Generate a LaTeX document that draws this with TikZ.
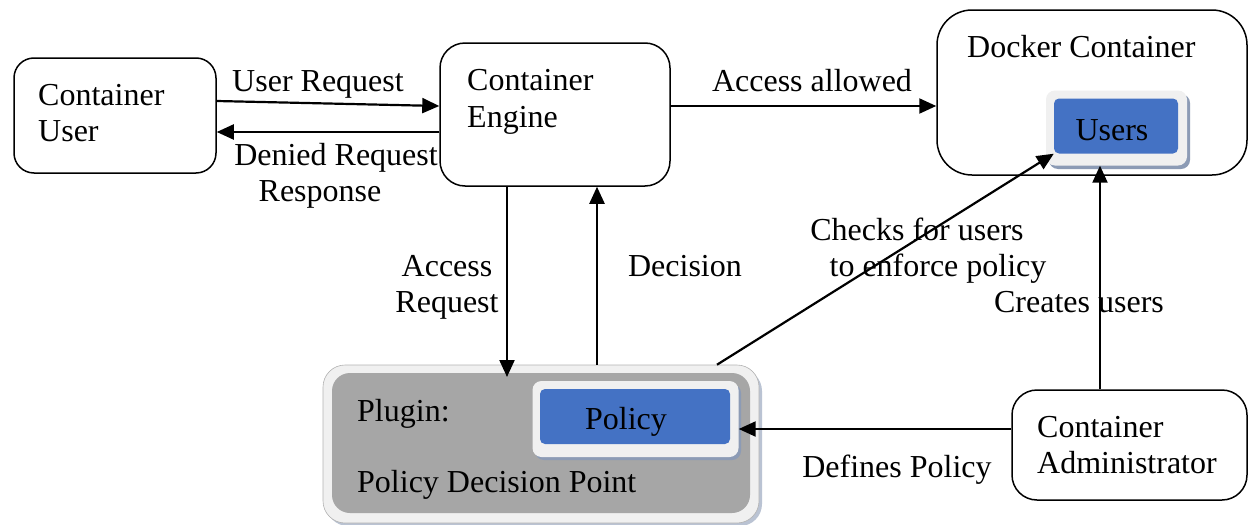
\documentclass[tikz,border=0pt]{standalone}
\usepackage{fontspec}
\setmainfont{Liberation Serif}
\usetikzlibrary{arrows.meta}
\definecolor{boxblue}{HTML}{4472C4}
\definecolor{framegray}{HTML}{F0F0F0}
\definecolor{shadowblue}{HTML}{8C9BB5}
\definecolor{plugingray}{HTML}{A6A6A6}
\begin{document}
\begin{tikzpicture}[x=1pt,y=-1pt,
  lbl/.style={font=\fontsize{32}{37}\selectfont, inner sep=0pt},
  whitebox/.style={draw=black, line width=1.5pt, fill=white, rectangle, inner sep=0pt},
  arr/.style={line width=2.2pt, -{Triangle[length=17pt,width=15pt]}},
  ]
\useasboundingbox (0,0) rectangle (1251,525);

% main boxes
\node[whitebox, rounded corners=20pt, minimum width=202pt, minimum height=115pt] (user) at (115,115.5) {};
\node[whitebox, rounded corners=25pt, minimum width=230pt, minimum height=143pt] (engine) at (555,114.5) {};
\node[whitebox, rounded corners=35pt, minimum width=310pt, minimum height=165pt] (docker) at (1092,92.5) {};
\node[whitebox, rounded corners=25pt, minimum width=235pt, minimum height=110pt] (admin) at (1129.5,445) {};

% plugin box
\fill[shadowblue!60, rounded corners=22pt] (326,369) rectangle (762,526);
\node[draw=black!30, line width=0.6pt, fill=framegray, rounded corners=22pt, minimum width=436pt, minimum height=158pt, inner sep=0pt] (pluginframe) at (541,444) {};
\node[fill=plugingray, rounded corners=18pt, minimum width=418pt, minimum height=140pt, inner sep=0pt] (plugin) at (541,443) {};

% policy box
\fill[shadowblue, rounded corners=9pt] (535,384) rectangle (741,460);
\node[fill=framegray, rounded corners=9pt, minimum width=206pt, minimum height=76pt, inner sep=0pt] (policyframe) at (635.5,419) {};
\node[fill=boxblue, rounded corners=5pt, minimum width=190pt, minimum height=55pt, inner sep=0pt] (policy) at (635,416.5) {};

% users box
\fill[shadowblue, rounded corners=9pt] (1049,94) rectangle (1190,169);
\node[fill=framegray, rounded corners=9pt, minimum width=141pt, minimum height=75pt, inner sep=0pt] (usersframe) at (1116.5,128) {};
\node[fill=boxblue, rounded corners=5pt, minimum width=124pt, minimum height=55pt, inner sep=0pt] (users) at (1116,126) {};

% box texts
\node[lbl, anchor=base west] (t1) at (38,105) {Container};
\node[lbl, anchor=base west] (t2) at (38,141) {User};
\node[lbl, anchor=base west] (t3) at (467,90) {Container};
\node[lbl, anchor=base west] (t4) at (467,127) {Engine};
\node[lbl, anchor=base west] (t5) at (967,57) {Docker Container};
\node[lbl, anchor=base west] (t6) at (1037,437) {Container};
\node[lbl, anchor=base west] (t7) at (1037,473) {Administrator};
\node[lbl, anchor=base west] (t8) at (357,421) {Plugin:};
\node[lbl, anchor=base west] (t9) at (357,492) {Policy Decision Point};
\node[lbl, anchor=base] (t10) at (626,429) {Policy};
\node[lbl, anchor=base] (t11) at (1112,140) {Users};

% connectors
\draw[arr] (user.east |- 0,101) -- (engine.west |- 0,106);
\draw[arr] (engine.west |- 0,132) -- (user.east |- 0,132);
\draw[arr] (engine.east |- 0,106) -- (docker.west |- 0,106);
\draw[arr] (engine.south -| 507,0) -- (507,377) coordinate (artip);
\draw[arr] (pluginframe.north -| 597,0) -- (engine.south -| 597,0);
\draw[arr] (pluginframe.north -| 717,0) -- (users.south west);
\draw[arr] (admin.north -| 1100,0) -- (usersframe.south -| 1100,0);
\draw[arr] (admin.west |- 0,429) -- (policyframe.east |- 0,429);

% connector labels
\node[lbl, anchor=base] (l1) at (318,91) {User Request};
\node[lbl, anchor=base] (l2) at (336,165) {Denied Request};
\node[lbl, anchor=base] (l3) at (320,201) {Response};
\node[lbl, anchor=base] (l4) at (812,91) {Access allowed};
\node[lbl, anchor=base] (l5) at (447,276) {Access};
\node[lbl, anchor=base] (l6) at (447,312) {Request};
\node[lbl, anchor=base] (l7) at (685,276) {Decision};
\node[lbl, anchor=base] (l8) at (917,240) {Checks for users};
\node[lbl, anchor=base] (l9) at (938,276) {to enforce policy};
\node[lbl, anchor=base] (l10) at (1079,312) {Creates users};
\node[lbl, anchor=base] (l11) at (897,477) {Defines Policy};
\end{tikzpicture}
\end{document}
